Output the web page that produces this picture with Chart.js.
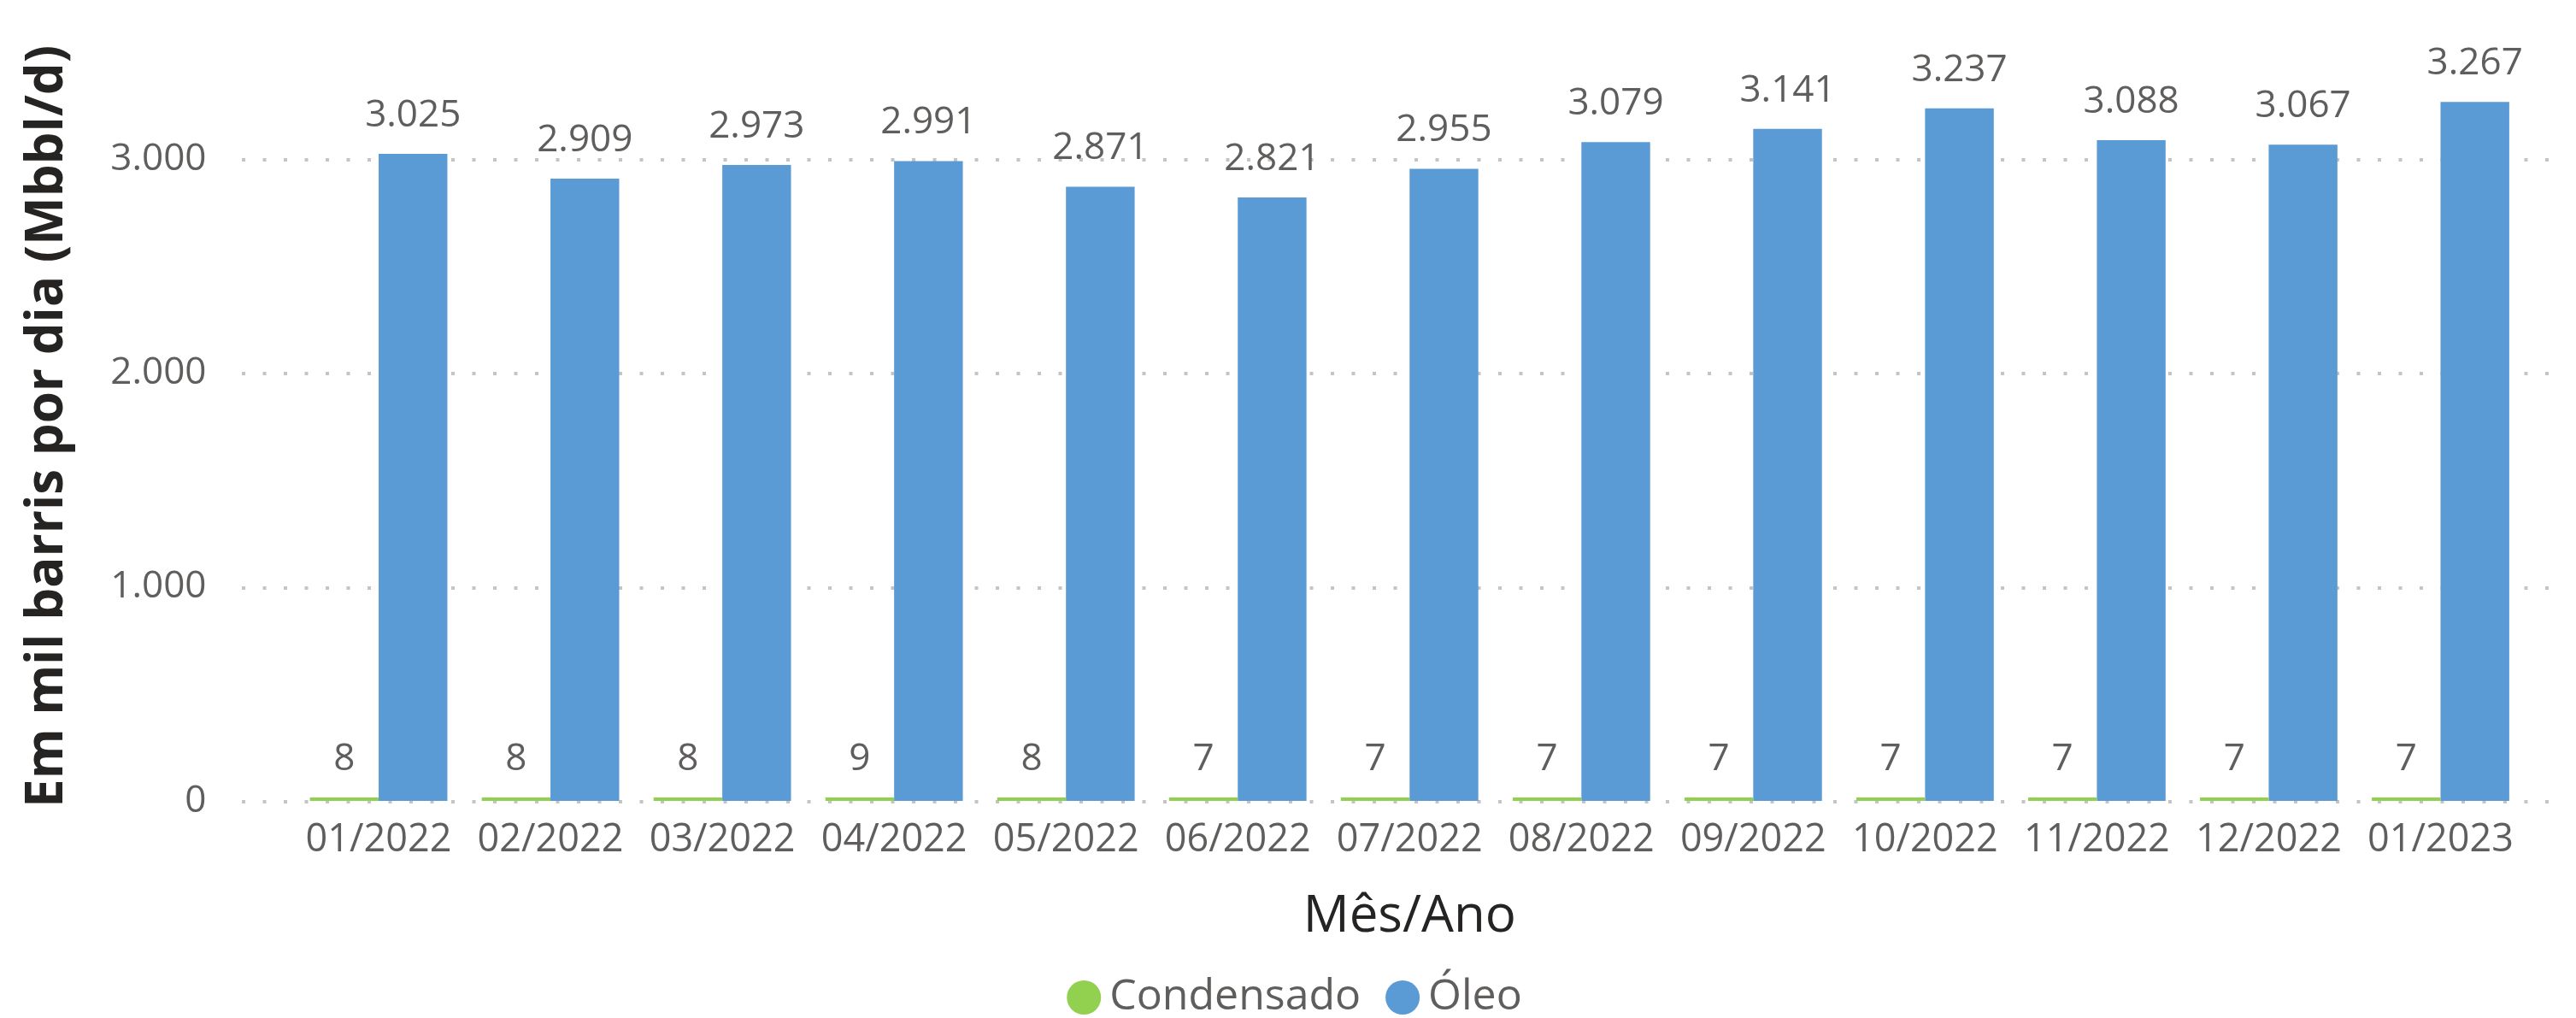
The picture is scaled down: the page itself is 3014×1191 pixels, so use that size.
<!DOCTYPE html>
<html>
<head>
<meta charset="utf-8">
<script src="https://cdn.jsdelivr.net/npm/chart.js@4.4.0/dist/chart.umd.min.js"></script>
<style>
html,body{margin:0;padding:0;background:#ffffff;}
#wrap{width:3014px;height:1191px;position:relative;}
</style>
</head>
<body>
<div id="wrap"><canvas id="c" width="3014" height="1191"></canvas></div>
<script>
const categories = ['01/2022','02/2022','03/2022','04/2022','05/2022','06/2022','07/2022','08/2022','09/2022','10/2022','11/2022','12/2022','01/2023'];
const condensado = [8, 8, 8, 9, 8, 7, 7, 7, 7, 7, 7, 7, 7];
const oleo = [3025, 2909, 2973, 2991, 2871, 2821, 2955, 3079, 3141, 3237, 3088, 3067, 3267];
const yTickValues = [0, 1000, 2000, 3000];
const seriesNames = ['Condensado', 'Óleo'];
const yTitle = 'Em mil barris por dia (Mbbl/d)';
const xTitle = 'Mês/Ano';

const FONT = '"Open Sans", "Noto Sans", sans-serif';
const GRAY = '#605E5C';

function fmt(v){
  return String(Math.round(v)).replace(/\B(?=(\d{3})+(?!\d))/g, '.');
}

const dottedGrid = {
  id: 'dottedGrid',
  beforeDatasetsDraw(chart){
    const {ctx, chartArea, scales} = chart;
    const y = scales.y;
    ctx.save();
    ctx.strokeStyle = '#C4C4C4';
    ctx.lineWidth = 4;
    ctx.setLineDash([4, 20.5]);
    const x0 = chartArea.left - 59.5, x1 = chartArea.right + 42.5;
    yTickValues.forEach(v => {
      const py = Math.round(y.getPixelForValue(v)) + 1;
      ctx.beginPath();
      ctx.moveTo(x0, py);
      ctx.lineTo(x1, py);
      ctx.stroke();
    });
    ctx.restore();
  }
};

const valueLabels = {
  id: 'valueLabels',
  afterDatasetsDraw(chart){
    const ctx = chart.ctx;
    ctx.save();
    ctx.font = '44px ' + FONT;
    ctx.fillStyle = GRAY;
    ctx.textAlign = 'center';
    ctx.textBaseline = 'alphabetic';
    chart.data.datasets.forEach((ds, i) => {
      const meta = chart.getDatasetMeta(i);
      meta.data.forEach((bar, j) => {
        ctx.fillText(fmt(ds.data[j]), bar.x, bar.y - 32);
      });
    });
    ctx.restore();
  }
};

Chart.defaults.font.family = FONT;

new Chart(document.getElementById('c'), {
  type: 'bar',
  data: {
    labels: categories,
    datasets: [
      { label: seriesNames[0], data: condensado, backgroundColor: '#92D050', borderWidth: 0,
        categoryPercentage: 0.8, barPercentage: 1.0, minBarLength: 4 },
      { label: seriesNames[1], data: oleo, backgroundColor: '#5B9BD5', borderWidth: 0,
        categoryPercentage: 0.8, barPercentage: 1.0 }
    ]
  },
  options: {
    responsive: false,
    animation: false,
    devicePixelRatio: 1,
    layout: { padding: { left: 88, right: 58, top: 61, bottom: -11 } },
    plugins: {
      legend: {
        position: 'bottom',
        labels: {
          usePointStyle: true,
          pointStyle: 'circle',
          boxWidth: 10,
          boxHeight: 28.3,
          padding: 44,
          color: GRAY,
          font: { size: 50, family: FONT }
        }
      },
      tooltip: { enabled: false }
    },
    scales: {
      x: {
        grid: { display: false, drawTicks: false },
        border: { display: false },
        ticks: { color: GRAY, font: { size: 45, family: FONT }, padding: 19, maxRotation: 0, autoSkip: false },
        title: { display: true, text: xTitle, color: '#252423', font: { size: 60, family: FONT }, padding: { top: 0, bottom: -11 } },
        afterFit(scale){
          const lg = scale.chart.legend;
          const lh = lg ? lg.height : 0;
          scale.height = scale.chart.height + 11 - lh - 937;
        }
      },
      y: {
        min: 0,
        max: 3500,
        grid: { display: false, drawTicks: true, tickLength: 101, tickColor: 'rgba(0,0,0,0)' },
        border: { display: false },
        ticks: { color: GRAY, font: { size: 44, family: FONT }, padding: 0, stepSize: 1000,
          callback: v => fmt(v) },
        afterBuildTicks(axis){ axis.ticks = yTickValues.map(v => ({ value: v })); },
        title: { display: true, text: yTitle, color: '#252423', font: { size: 60, weight: 'bold', family: FONT }, padding: { top: -68, bottom: 0 } },
        afterFit(scale){ scale.width = 342.5 - 88; }
      }
    }
  },
  plugins: [dottedGrid, valueLabels]
});
</script>
</body>
</html>
